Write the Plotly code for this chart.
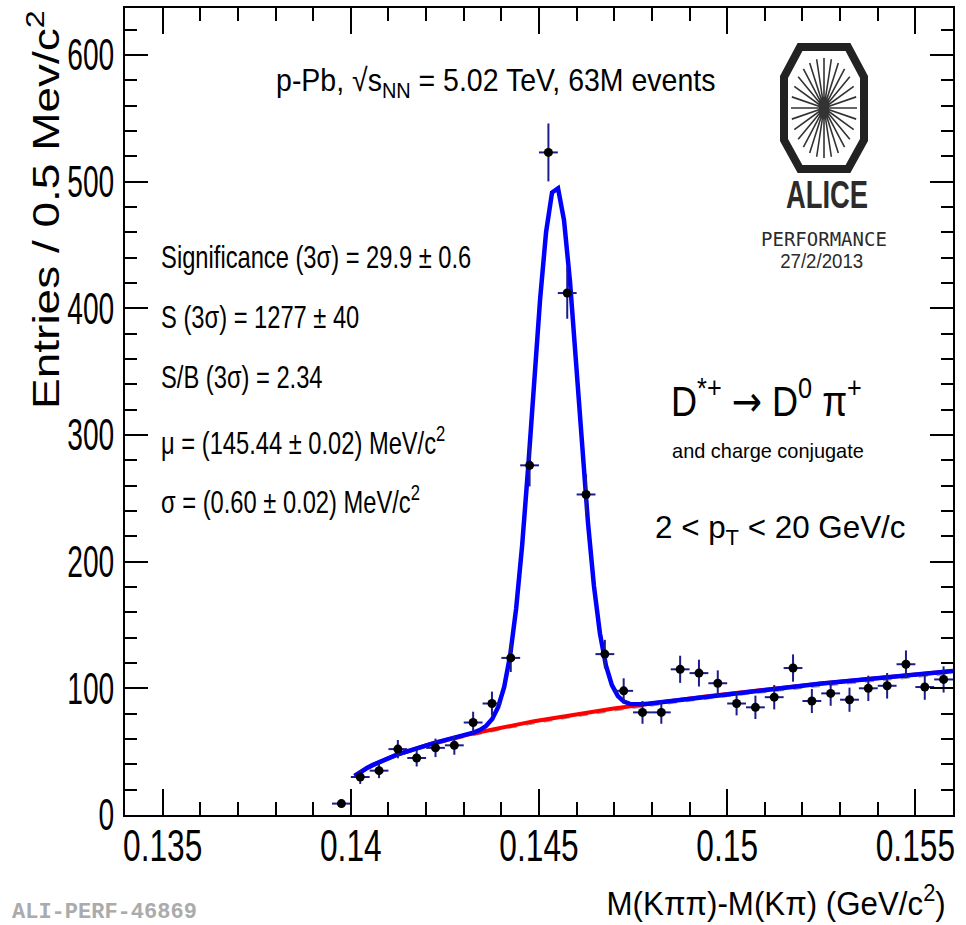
import json
import numpy as np
import plotly.graph_objects as go

# D*+ -> D0 pi+ candidates, Delta M = M(K pi pi) - M(K pi), 0.5 MeV/c^2 bins
bin_centers = [
    0.13975, 0.14025, 0.14075, 0.14125, 0.14175, 0.14225, 0.14275, 0.14325,
    0.14375, 0.14425, 0.14475, 0.14525, 0.14575, 0.14625, 0.14675, 0.14725,
    0.14775, 0.14825, 0.14875, 0.14925, 0.14975, 0.15025, 0.15075, 0.15125,
    0.15175, 0.15225, 0.15275, 0.15325, 0.15375, 0.15425, 0.15475, 0.15525,
    0.15575,
]
counts = [
    9, 30, 35, 52, 45, 53, 55, 73, 88, 124, 276, 523, 412, 253, 127, 98,
    81, 81, 115, 112, 104, 88, 85, 93, 116, 90, 96, 91, 100, 102, 119, 101,
    107,
]
BIN_HALF_WIDTH = 0.00025

# Fit result: Gaussian signal + threshold power-law background
MU = 0.14544        # GeV/c^2
SIGMA = 0.00060     # GeV/c^2
SIG_AMP = 420.0
M_PI = 0.13957
BKG_NORM = 541.7
BKG_POW = 0.38
BKG_SB_SCALE = 0.985
FIT_LO, FIT_HI, FIT_NPX = 0.1401, 0.156, 100

x_ticks = [0.135, 0.14, 0.145, 0.15, 0.155]
x_tick_text = ["0.135", "0.14", "0.145", "0.15", "0.155"]
y_ticks = [0, 100, 200, 300, 400, 500, 600]
y_tick_text = ["0", "100", "200", "300", "400", "500", "600"]

X_RANGE = [0.134, 0.156]
Y_RANGE = [0, 637]

FONT = "Liberation Sans, Arial, Helvetica, sans-serif"
X_TICK_SQUASH = 0.72   # condensed Helvetica look for the axis numbers
Y_TICK_SQUASH = 0.64

# page geometry (pixels)
WIDTH, HEIGHT = 966, 925
ML, MR, MT, MB = 125, 13, 8, 110
PW, PH = WIDTH - ML - MR, HEIGHT - MT - MB


def px(x):
    return (x - ML) / PW


def py(y):
    return 1 - (y - MT) / PH


def background(x):
    return BKG_NORM * np.power(np.clip(x - M_PI, 0, None), BKG_POW)


def total(x):
    return SIG_AMP * np.exp(-0.5 * ((x - MU) / SIGMA) ** 2) + background(x)


xf = np.linspace(FIT_LO, FIT_HI, FIT_NPX + 1)
errs = np.sqrt(np.array(counts, dtype=float))

fig = go.Figure()
fig.add_trace(go.Scatter(x=xf, y=background(xf) * BKG_SB_SCALE, mode="lines",
                         line=dict(color="#9a9a9a", width=3, dash="dash"),
                         hoverinfo="skip"))
fig.add_trace(go.Scatter(x=xf, y=background(xf), mode="lines",
                         line=dict(color="#ff0000", width=4), hoverinfo="skip"))
fig.add_trace(go.Scatter(x=xf, y=total(xf), mode="lines",
                         line=dict(color="#0000ff", width=4.5), hoverinfo="skip"))
fig.add_trace(go.Scatter(
    x=bin_centers, y=counts, mode="markers",
    marker=dict(color="black", size=9, symbol="circle"),
    error_y=dict(type="data", array=errs, color="#1c1c8c", thickness=2, width=0),
    error_x=dict(type="constant", value=BIN_HALF_WIDTH, color="#1c1c8c",
                 thickness=2, width=0),
))

axis_common = dict(
    showgrid=False, zeroline=False, showline=True, linecolor="black",
    linewidth=2, mirror="ticks", ticks="inside", tickcolor="black",
    tickwidth=2, automargin=False, ticklabeloverflow="allow",
    tickfont=dict(family=FONT, size=44, color="black"),
)
fig.update_xaxes(range=X_RANGE, tickmode="array", tickvals=x_ticks,
                 ticktext=x_tick_text, ticklen=26, ticklabelstandoff=-9,
                 minor=dict(tickmode="linear", tick0=0.134, dtick=0.001,
                            ticks="inside", ticklen=13, tickcolor="black",
                            tickwidth=2),
                 **axis_common)
fig.update_yaxes(range=Y_RANGE, tickmode="array", tickvals=y_ticks,
                 ticktext=y_tick_text, ticklen=23, ticklabelstandoff=0,
                 minor=dict(tickmode="linear", tick0=0, dtick=20,
                            ticks="inside", ticklen=12, tickcolor="black",
                            tickwidth=2),
                 **axis_common)

ann = []
ann_squash = []   # per annotation: [x scale, y scale, pivot]


def text(x, y, s, size, xanchor="left", family=FONT, color="black", angle=0,
         sx=1.0, sy=1.0):
    ann.append(dict(x=px(x), y=py(y), xref="paper", yref="paper", text=s,
                    showarrow=False, xanchor=xanchor, yanchor="middle",
                    textangle=angle, font=dict(family=family, size=size,
                                                color=color)))
    pivot = {"left": "start", "right": "end", "center": "middle"}[xanchor]
    ann_squash.append([sx, sy, pivot])


ARROW = "<span style='font-family:DejaVu Sans'>→</span>"

text(274, 83, "p-Pb, √s<sub>NN</sub> = 5.02 TeV, 63M events", 32, sx=0.89)
text(159, 257, "Significance (3σ) = 29.9 ± 0.6", 31, sx=0.765)
text(159, 317, "S (3σ) = 1277 ± 40", 31, sx=0.765)
text(159, 377, "S/B (3σ) = 2.34", 31, sx=0.765)
text(159, 441, "μ = (145.44 ± 0.02) MeV/c<sup>2</sup>", 31, sx=0.765)
text(159, 500, "σ = (0.60 ± 0.02) MeV/c<sup>2</sup>", 31, sx=0.765)
text(669, 398, f"D<sup>*+</sup> {ARROW} D<sup>0</sup> π<sup>+</sup>", 42, sx=0.86)
text(670, 450, "and charge conjugate", 21, sx=0.95)
text(653, 529, "2 &lt; p<sub>T</sub> &lt; 20 GeV/c", 32, sx=0.98)
text(948, 900, "M(Kππ)-M(Kπ) (GeV/c<sup>2</sup>)", 34, xanchor="right", sx=0.92)
text(44, 210, "Entries / 0.5 Mev/c<sup>2</sup>", 46, xanchor="center",
     angle=-90, sy=0.8)
text(10, 912, "<b>ALI-PERF-46869</b>", 22,
     family="Liberation Mono, Courier New, monospace", color="#ababab")

# ALICE performance logo
text(827, 195, "<b>ALICE</b>", 38, xanchor="center", color="#2b2b2b", sx=0.72)
text(824, 239, "PERFORMANCE", 19, xanchor="center",
     family="DejaVu Sans Mono, monospace", color="#2b2b2b")
text(821, 260, "27/2/2013", 21, xanchor="center", color="#2b2b2b", sx=0.89)

oct_pts = [(800, 47), (848, 47), (864, 77), (864, 140), (848, 169),
           (800, 169), (784, 140), (784, 77)]
oct_path = "M " + " L ".join(f"{px(a):.5f},{py(b):.5f}" for a, b in oct_pts) + " Z"
cx, cy, rx, ry = 824, 108, 33, 50
spokes = []
for k in range(28):
    t = 2 * np.pi * k / 28
    spokes.append(f"M {px(cx):.5f},{py(cy):.5f} "
                  f"L {px(cx + rx * np.cos(t)):.5f},{py(cy + ry * np.sin(t)):.5f}")
shapes = [
    dict(type="path", path=oct_path, xref="paper", yref="paper",
         line=dict(color="#222222", width=8), fillcolor="rgba(0,0,0,0)"),
    dict(type="path", path=" ".join(spokes), xref="paper", yref="paper",
         line=dict(color="#333333", width=1.6)),
]

fig.update_layout(
    width=WIDTH, height=HEIGHT,
    margin=dict(l=ML, r=MR, t=MT, b=MB),
    paper_bgcolor="white", plot_bgcolor="white",
    showlegend=False, annotations=ann, shapes=shapes,
    font=dict(family=FONT, color="black"),
)

# Horizontally condense text glyphs (narrow Helvetica look) after drawing.
post_script = """
var gd = document.getElementById('{plot_id}');
var annSquash = %s;
var xTickSquash = %s;
var yTickSquash = %s;
function sq(el, sx, sy, pivot) {
  if (sx === 1 && sy === 1) return;
  var cur = el.getAttribute('transform') || '';
  if (el.__sqOut !== undefined && cur === el.__sqOut) return;
  var b = el.getBBox();
  var px = pivot === 'start' ? b.x : (pivot === 'end' ? b.x + b.width : b.x + b.width / 2);
  var py = b.y + b.height / 2;
  var t = cur + ' translate(' + px + ',' + py + ') scale(' + sx + ',' + sy + ') translate(' + (-px) + ',' + (-py) + ')';
  el.setAttribute('transform', t);
  el.__sqOut = el.getAttribute('transform');
}
function squashAll() {
  gd.querySelectorAll('g.xtick text').forEach(function (el) { sq(el, xTickSquash, 1, 'middle'); });
  gd.querySelectorAll('g.ytick text').forEach(function (el) { sq(el, yTickSquash, 1, 'end'); });
  gd.querySelectorAll('g.annotation').forEach(function (g) {
    var i = +g.getAttribute('data-index');
    var s = annSquash[i];
    if (!s) return;
    var el = g.querySelector('text.annotation-text');
    if (el) sq(el, s[0], s[1], s[2]);
  });
}
squashAll();
gd.on('plotly_afterplot', squashAll);
""" % (json.dumps(ann_squash), json.dumps(X_TICK_SQUASH), json.dumps(Y_TICK_SQUASH))

fig.write_html("out.html", post_script=post_script)
